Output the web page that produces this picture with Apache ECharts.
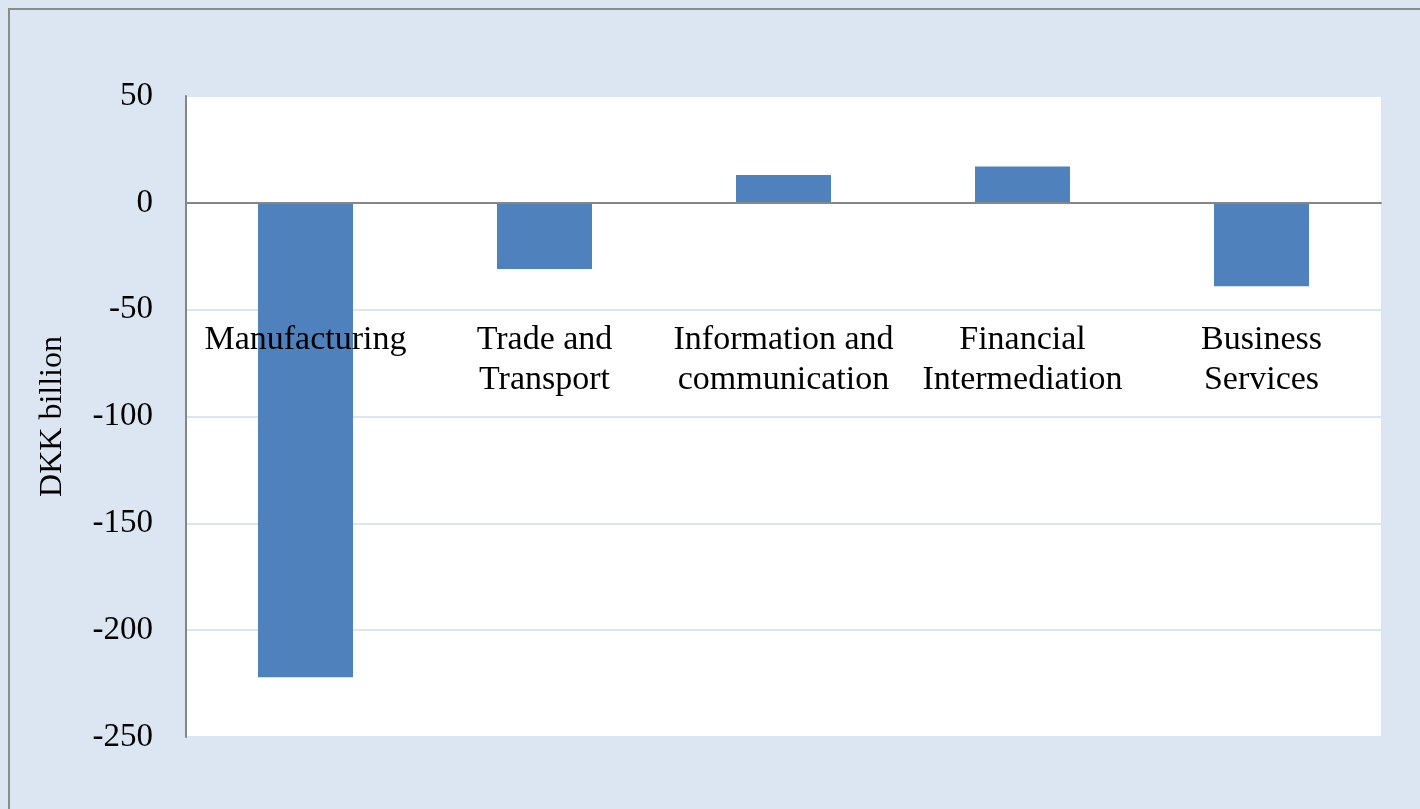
<!DOCTYPE html>
<head>
    <meta charset="utf-8">
    <title>DKK billion by sector</title>
    <script src="https://cdn.jsdelivr.net/npm/echarts@6/dist/echarts.min.js"></script>
    <style>
        body { margin: 0; }
        #chart { width: 1420px; height: 809px; }
    </style>
</head>
<body>
    <div id="chart"></div>
    <script type="text/javascript">
        // sectors and change in DKK billion
        var sectors = ['Manufacturing', 'Trade and\nTransport', 'Information and\ncommunication', 'Financial\nIntermediation', 'Business\nServices'];
        var values = [-222, -31, 13, 17, -39];
        var yTicks = { min: -250, max: 50, step: 50 };

        var serif = "'Liberation Serif', 'Times New Roman', serif";
        var myChart = echarts.init(document.getElementById('chart'));

        var option = {
            backgroundColor: '#dce6f2',
            animation: false,
            graphic: [{
                type: 'rect',
                shape: { x: 9, y: 9, width: 1600, height: 1000 },
                style: { fill: 'none', stroke: '#8c8c8c', lineWidth: 2 },
                silent: true
            }],
            grid: {
                left: 186, right: 39, top: 96, bottom: 72,
                outerBoundsMode: 'none',
                containLabel: false,
                show: true, backgroundColor: '#ffffff', borderWidth: 0
            },
            xAxis: {
                type: 'category',
                data: sectors,
                z: 5,
                axisLine: { onZero: true, lineStyle: { color: '#868686', width: 2 } },
                axisTick: { show: false },
                axisLabel: {
                    // labels sit below the -50 line, drawn over the bars
                    margin: -417,
                    fontFamily: serif,
                    fontSize: 34,
                    lineHeight: 40,
                    color: '#000',
                    interval: 0
                }
            },
            yAxis: {
                type: 'value',
                min: yTicks.min,
                max: yTicks.max,
                interval: yTicks.step,
                name: 'DKK billion',
                nameLocation: 'middle',
                nameGap: 117,
                nameTextStyle: { fontFamily: serif, fontSize: 32, color: '#000' },
                axisLine: { show: true, lineStyle: { color: '#868686', width: 2 } },
                axisTick: { show: false },
                axisLabel: { margin: 33, fontFamily: serif, fontSize: 33, color: '#000' },
                splitLine: { lineStyle: { color: '#dce6f2', width: 2 } }
            },
            series: [{
                type: 'bar',
                data: values,
                barWidth: 95,
                itemStyle: { color: '#4f81bd' }
            }]
        };

        myChart.setOption(option);
    </script>
</body>
